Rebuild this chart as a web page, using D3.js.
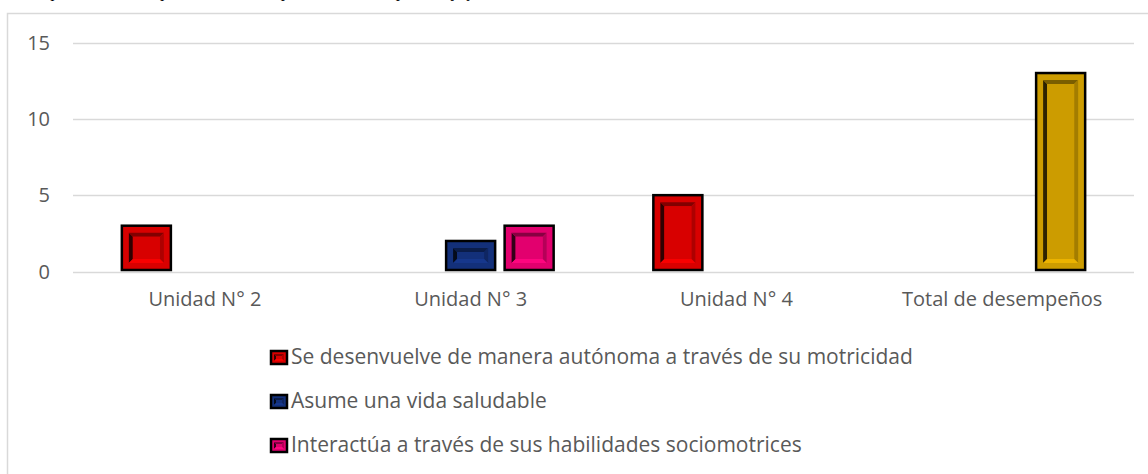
<!DOCTYPE html>
<html>
<head>
<meta charset="utf-8">
<script src="https://cdn.jsdelivr.net/npm/d3@7"></script>
<style>
  body { margin: 0; background: #fff; }
  svg { display: block; }
  text { font-family: "Open Sans", "Noto Sans", sans-serif; fill: #595959; }
</style>
</head>
<body>
<svg id="chart" width="1148" height="474"></svg>
<script>
// datos
var categorias = ["Unidad N° 2", "Unidad N° 3", "Unidad N° 4", "Total de desempeños"];
var series = [
  "Se desenvuelve de manera autónoma a través de su motricidad",
  "Asume una vida saludable",
  "Interactúa a través de sus habilidades sociomotrices"
];
var valores = [
  [3, 0, 5, 0],
  [0, 2, 0, 0],
  [0, 3, 0, 13]
];
var ticksY = [0, 5, 10, 15];
var colores = ["#d80000", "#13307a", "#e2006e"];
var colorTotal = "#cc9c00"; // el punto "Total" va en dorado

var svg = d3.select("#chart");

// titulo cortado arriba (solo se ven los trazos bajos)
svg.append("text")
  .attr("x", 8).attr("y", -3)
  .style("font-family", "'Liberation Serif', serif")
  .style("font-style", "italic")
  .style("font-size", "16px")
  .style("fill", "#000")
  .text("Desempeños de las competencias del área por unidades de aprendizaje y total");

// marco
svg.append("rect")
  .attr("x", 7.5).attr("y", 13.5)
  .attr("width", 1150).attr("height", 470)
  .attr("fill", "none").attr("stroke", "#d9d9d9").attr("stroke-width", 1.5);

var x = d3.scaleBand().domain(categorias).range([72, 1135]);
var xs = d3.scaleBand().domain(d3.range(series.length))
  .range([0, x.bandwidth()]).paddingInner(0.162).paddingOuter(0.852);
var y = d3.scaleLinear().domain([0, 15]).range([271.5, 42.5]);

// rejilla
svg.append("g").selectAll("line").data(ticksY).join("line")
  .attr("x1", 73).attr("x2", 1134)
  .attr("y1", function(d){ return Math.round(y(d)) + 0.5; })
  .attr("y2", function(d){ return Math.round(y(d)) + 0.5; })
  .attr("stroke", "#d9d9d9").attr("stroke-width", 1.5);

// etiquetas eje Y
svg.append("g").selectAll("text").data(ticksY).join("text")
  .attr("x", 50).attr("y", function(d){ return y(d); })
  .attr("dy", "0.35em").attr("text-anchor", "end")
  .style("font-size", "20px")
  .text(function(d){ return d; });

// etiquetas categorias
svg.append("g").selectAll("text").data(categorias).join("text")
  .attr("x", function(d){ return x(d) + x.bandwidth() / 2; })
  .attr("y", 306).attr("text-anchor", "middle")
  .style("font-size", "20px")
  .text(function(d){ return d; });

// barra con bisel
function bisel(g, x0, y0, w, h, base, marco, ancho) {
  var c = d3.hsl(base);
  var izq = d3.hsl(c.h, c.s, c.l * 0.22);
  var sup = d3.hsl(c.h, c.s, c.l * 0.6);
  var der = d3.hsl(c.h, c.s, Math.min(c.l * 0.8, 0.9));
  var inf = d3.hsl(c.h, c.s, Math.min(c.l * 1.15, 0.9));
  g.append("rect").attr("x", x0).attr("y", y0).attr("width", w).attr("height", h)
    .attr("fill", base).attr("stroke", "#000").attr("stroke-width", 2.5);
  var a0 = x0 + marco, b0 = y0 + marco, a1 = x0 + w - marco, b1 = y0 + h - marco;
  var i0 = a0 + ancho, j0 = b0 + ancho, i1 = a1 - ancho, j1 = b1 - ancho;
  if (j1 < j0) { j0 = j1 = (b0 + b1) / 2; }
  var lados = [
    [[a0,b0],[i0,j0],[i0,j1],[a0,b1], izq],
    [[a0,b0],[a1,b0],[i1,j0],[i0,j0], sup],
    [[a1,b0],[a1,b1],[i1,j1],[i1,j0], der],
    [[a0,b1],[i0,j1],[i1,j1],[a1,b1], inf]
  ];
  lados.forEach(function(p) {
    g.append("polygon")
      .attr("points", p.slice(0, 4).map(function(q){ return q.join(","); }).join(" "))
      .attr("fill", p[4].formatHex());
  });
  g.append("rect").attr("x", i0).attr("y", j0)
    .attr("width", Math.max(0, i1 - i0)).attr("height", Math.max(0, j1 - j0))
    .attr("fill", base);
}

var gb = svg.append("g");
valores.forEach(function(fila, s) {
  fila.forEach(function(v, k) {
    if (!v) return;
    var col = (categorias[k] === "Total de desempeños") ? colorTotal : colores[s];
    var x0 = x(categorias[k]) + xs(s);
    bisel(gb, x0, y(v), xs.bandwidth(), y(0) - y(v) - 1.5, col, 7, 4);
  });
});

// leyenda
var gl = svg.append("g");
series.forEach(function(nombre, s) {
  var yb = 364 + s * 44;
  bisel(gl, 271, yb - 13, 16, 13, colores[s], 3, 2);
  gl.append("text").attr("x", 291).attr("y", yb)
    .style("font-size", "21px").text(nombre);
});
</script>
</body>
</html>
